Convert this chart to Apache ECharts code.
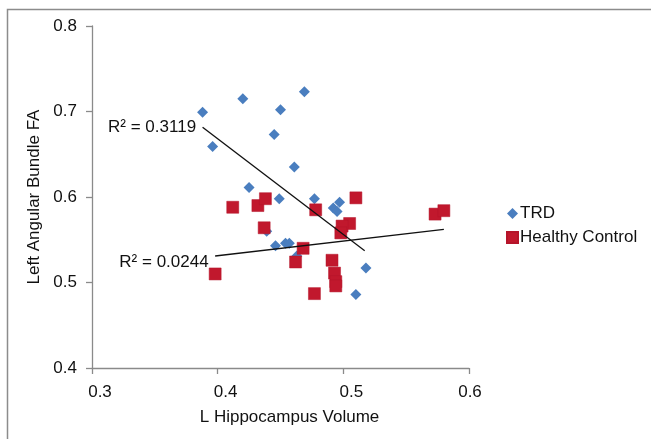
<!DOCTYPE html>
<html>
<head>
	<meta charset="utf-8">
	<title>Angular Bundle FA</title>
	<script src="https://cdn.jsdelivr.net/npm/echarts@6/dist/echarts.min.js"></script>
	<style>
		html, body { margin: 0; padding: 0; background: #fff; }
	</style>
</head>
<body>
	<div id="echart" style="width: 651px; height: 439px"></div>
	<script>
		// scatter values: [hippocampus volume, FA]
		let trdX = [0.388, 0.420, 0.469, 0.450, 0.445, 0.396, 0.461, 0.425, 0.449, 0.477,
			0.492, 0.495, 0.497, 0.439, 0.446, 0.454, 0.457, 0.463, 0.518, 0.510];
		let trdY = [0.699, 0.715, 0.723, 0.702, 0.673, 0.659, 0.635, 0.611, 0.598, 0.598,
			0.587, 0.583, 0.594, 0.560, 0.543, 0.546, 0.546, 0.531, 0.517, 0.486];
		let hcX = [0.412, 0.432, 0.438, 0.478, 0.437, 0.468, 0.462, 0.491, 0.398, 0.510,
			0.505, 0.499, 0.498, 0.493, 0.494, 0.494, 0.477, 0.573, 0.580];
		let hcY = [0.588, 0.590, 0.598, 0.585, 0.564, 0.540, 0.524, 0.526, 0.510, 0.599,
			0.569, 0.566, 0.558, 0.511, 0.501, 0.496, 0.487, 0.580, 0.584];
		// linear trendline ends as drawn in the original (x, y)
		let trdFit = [[0.388, 0.6815], [0.517, 0.5372]];
		let hcFit = [[0.398, 0.531], [0.580, 0.5622]];
		let seriesNames = ['TRD', 'Healthy Control'];
		let rsqLabels = ['R² = 0.3119', 'R² = 0.0244'];
		let xTicks = [0.3, 0.6, 0.1];   // min, max, step
		let yTicks = [0.4, 0.8, 0.1];

		function pairs(xs, ys) {
			return xs.map(function (x, i) { return [x, ys[i]]; });
		}

		function fitLine(ends, label, dy) {
			return [
				{ value: ends[0], label: { show: true, formatter: label, offset: [0, dy] } },
				{ value: ends[1] }
			];
		}

		let font = 'Liberation Sans, Arial, sans-serif';
		let axisGray = '#8a8a8a';
		let fs = 17;

		let mychart = echarts.init(document.getElementById('echart'));
		let option = {
			animation: false,
			textStyle: { fontFamily: font },
			grid: { left: 92, top: 26, right: 182, bottom: 71, containLabel: false },
			graphic: [{
				type: 'polyline',
				shape: { points: [[7.5, 439], [7.5, 9.5], [651, 9.5]] },
				style: { stroke: '#8c8c8c', lineWidth: 1.5, fill: null },
				silent: true
			}],
			legend: {
				orient: 'vertical',
				left: 501,
				top: 200,
				itemWidth: 11,
				itemHeight: 11,
				itemGap: 7,
				textStyle: { fontSize: fs, color: '#111', fontFamily: font, padding: [0, 0, 0, -3] },
				data: [
					{ name: seriesNames[0], icon: 'diamond' },
					{ name: seriesNames[1], icon: 'rect' }
				]
			},
			xAxis: {
				type: 'value',
				min: xTicks[0], max: xTicks[1], interval: xTicks[2],
				name: 'L Hippocampus Volume',
				nameLocation: 'middle',
				nameGap: 41,
				nameTextStyle: { fontSize: fs, color: '#111', padding: [0, 0, 0, 18] },
				splitLine: { show: false },
				axisLine: { lineStyle: { color: axisGray, width: 1.3 } },
				axisTick: { length: 6, lineStyle: { color: axisGray, width: 1.3 } },
				axisLabel: {
					fontSize: fs, color: '#111', margin: 16,
					// the source nudges most of these labels a bit to the right
					formatter: function (v) { return (v < 0.55 ? '{s|' : '{e|') + v.toFixed(1) + '}'; },
					rich: {
						s: { fontSize: fs, color: '#111', padding: [0, 0, 0, 16] },
						e: { fontSize: fs, color: '#111', padding: [0, 0, 0, 2] }
					}
				}
			},
			yAxis: {
				type: 'value',
				min: yTicks[0], max: yTicks[1], interval: yTicks[2],
				name: 'Left Angular Bundle FA',
				nameLocation: 'middle',
				nameGap: 42,
				nameTextStyle: { fontSize: fs, color: '#111' },
				splitLine: { show: false },
				axisLine: { show: true, lineStyle: { color: axisGray, width: 1.3 } },
				axisTick: { show: true, length: 6, lineStyle: { color: axisGray, width: 1.3 } },
				axisLabel: { fontSize: fs, color: '#111', margin: 15, formatter: function (v) { return v.toFixed(1); } }
			},
			series: [
				{
					name: seriesNames[0],
					type: 'scatter',
					symbol: 'diamond',
					symbolSize: 11,
					itemStyle: { color: '#4a7ebf', opacity: 1 },
					data: pairs(trdX, trdY)
				},
				{
					name: seriesNames[1],
					type: 'scatter',
					symbol: 'rect',
					symbolSize: 12,
					itemStyle: { color: '#c1182d', borderColor: '#b5152a', borderWidth: 0.5, opacity: 1 },
					data: pairs(hcX, hcY)
				},
				{
					name: 'trd fit',
					type: 'line',
					z: 5,
					symbol: 'circle',
					symbolSize: 1,
					itemStyle: { color: 'rgba(0,0,0,0)' },
					lineStyle: { color: '#111', width: 1.3 },
					label: { position: 'left', distance: 6, fontSize: fs, color: '#111' },
					data: fitLine(trdFit, rsqLabels[0], 0)
				},
				{
					name: 'hc fit',
					type: 'line',
					z: 5,
					symbol: 'circle',
					symbolSize: 1,
					itemStyle: { color: 'rgba(0,0,0,0)' },
					lineStyle: { color: '#111', width: 1.3 },
					label: { position: 'left', distance: 6, fontSize: fs, color: '#111' },
					data: fitLine(hcFit, rsqLabels[1], 6)
				}
			]
		};
		mychart.setOption(option);
	</script>
</body>
</html>
